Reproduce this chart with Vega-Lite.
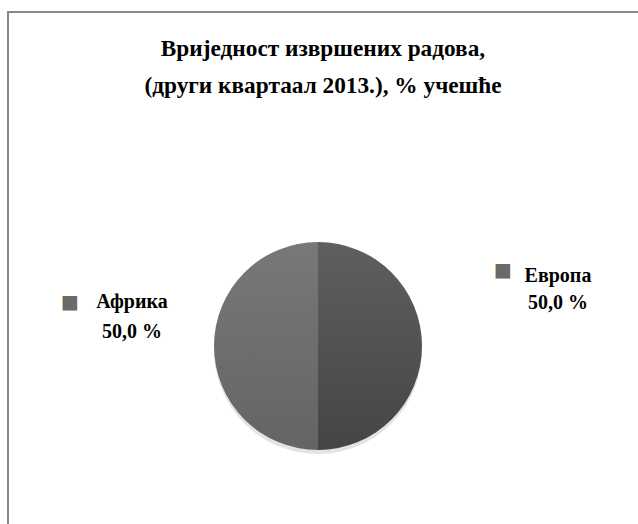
{
  "$schema": "https://vega.github.io/schema/vega-lite/v6.json",
  "autosize": "none",
  "width": 640,
  "height": 668,
  "padding": {"left": 8, "top": 12, "right": 0, "bottom": 0},
  "background": "white",
  "view": {"stroke": "#878787", "strokeWidth": 2, "fill": "white"},
  "config": {
    "view": {"stroke": "#878787", "strokeWidth": 2},
    "font": "Liberation Serif"
  },
  "title": {
    "text": ["Вриједност извршених радова,", "(други квартаал 2013.), % учешће"],
    "anchor": "middle",
    "frame": "group",
    "font": "Liberation Serif",
    "fontSize": 23.3,
    "fontWeight": "bold",
    "color": "#000000",
    "lineHeight": 37,
    "baseline": "alphabetic",
    "offset": 0,
    "dx": -5,
    "dy": 104
  },
  "data": {
    "values": [
      {"region": "Европа", "value": 50.0, "label": "Европа\n50,0 %"},
      {"region": "Африка", "value": 50.0, "label": "Африка\n50,0 %"}
    ]
  },
  "encoding": {
    "theta": {"field": "value", "type": "quantitative", "stack": true, "sort": null}
  },
  "layer": [
    {
      "mark": {
        "type": "arc",
        "outerRadius": 104,
        "xOffset": -10,
        "yOffset": 4,
        "fill": "#b0b0b0",
        "opacity": 0.35
      },
      "encoding": {
        "order": {"field": "region", "sort": "descending"}
      }
    },
    {
      "mark": {
        "type": "arc",
        "outerRadius": 104,
        "xOffset": -10,
        "fill": {
          "gradient": "linear", "x1": 0, "y1": 0, "x2": 0, "y2": 1,
          "stops": [{"offset": 0, "color": "#5f5f5f"}, {"offset": 1, "color": "#454545"}]
        }
      },
      "encoding": {
        "order": {"field": "region", "sort": "descending"},
        "opacity": {"condition": {"test": "datum.region === 'Европа'", "value": 1}, "value": 0}
      }
    },
    {
      "mark": {
        "type": "arc",
        "outerRadius": 104,
        "xOffset": -10,
        "fill": {
          "gradient": "linear", "x1": 0, "y1": 0, "x2": 0, "y2": 1,
          "stops": [{"offset": 0, "color": "#787878"}, {"offset": 1, "color": "#646464"}]
        }
      },
      "encoding": {
        "order": {"field": "region", "sort": "descending"},
        "opacity": {"condition": {"test": "datum.region === 'Африка'", "value": 1}, "value": 0}
      }
    },
    {
      "mark": {
        "type": "text",
        "radius": 213,
        "dx": 17,
        "dy": -64,
        "align": "center",
        "baseline": "alphabetic",
        "lineBreak": "\n",
        "lineHeight": 27,
        "font": "Liberation Serif",
        "fontSize": 20,
        "fontWeight": "bold",
        "color": "#000000"
      },
      "encoding": {
        "order": {"field": "region", "sort": "descending"},
        "text": {"condition": {"test": "datum.region === 'Европа'", "field": "label"}, "value": ""}
      }
    },
    {
      "mark": {
        "type": "text",
        "radius": 213,
        "dx": 17,
        "dy": -38,
        "align": "center",
        "baseline": "alphabetic",
        "lineBreak": "\n",
        "lineHeight": 30,
        "font": "Liberation Serif",
        "fontSize": 20,
        "fontWeight": "bold",
        "color": "#000000"
      },
      "encoding": {
        "order": {"field": "region", "sort": "descending"},
        "text": {"condition": {"test": "datum.region === 'Африка'", "field": "label"}, "value": ""}
      }
    },
    {
      "mark": {
        "type": "text",
        "radius": 213,
        "dx": -38,
        "dy": -76,
        "align": "center",
        "baseline": "middle",
        "font": "DejaVu Sans",
        "fontSize": 19,
        "color": "#6a6a6a"
      },
      "encoding": {
        "order": {"field": "region", "sort": "descending"},
        "text": {"condition": {"test": "datum.region === 'Европа'", "value": "■"}, "value": ""}
      }
    },
    {
      "mark": {
        "type": "text",
        "radius": 213,
        "dx": -45,
        "dy": -44,
        "align": "center",
        "baseline": "middle",
        "font": "DejaVu Sans",
        "fontSize": 19,
        "color": "#6a6a6a"
      },
      "encoding": {
        "order": {"field": "region", "sort": "descending"},
        "text": {"condition": {"test": "datum.region === 'Африка'", "value": "■"}, "value": ""}
      }
    }
  ]
}
